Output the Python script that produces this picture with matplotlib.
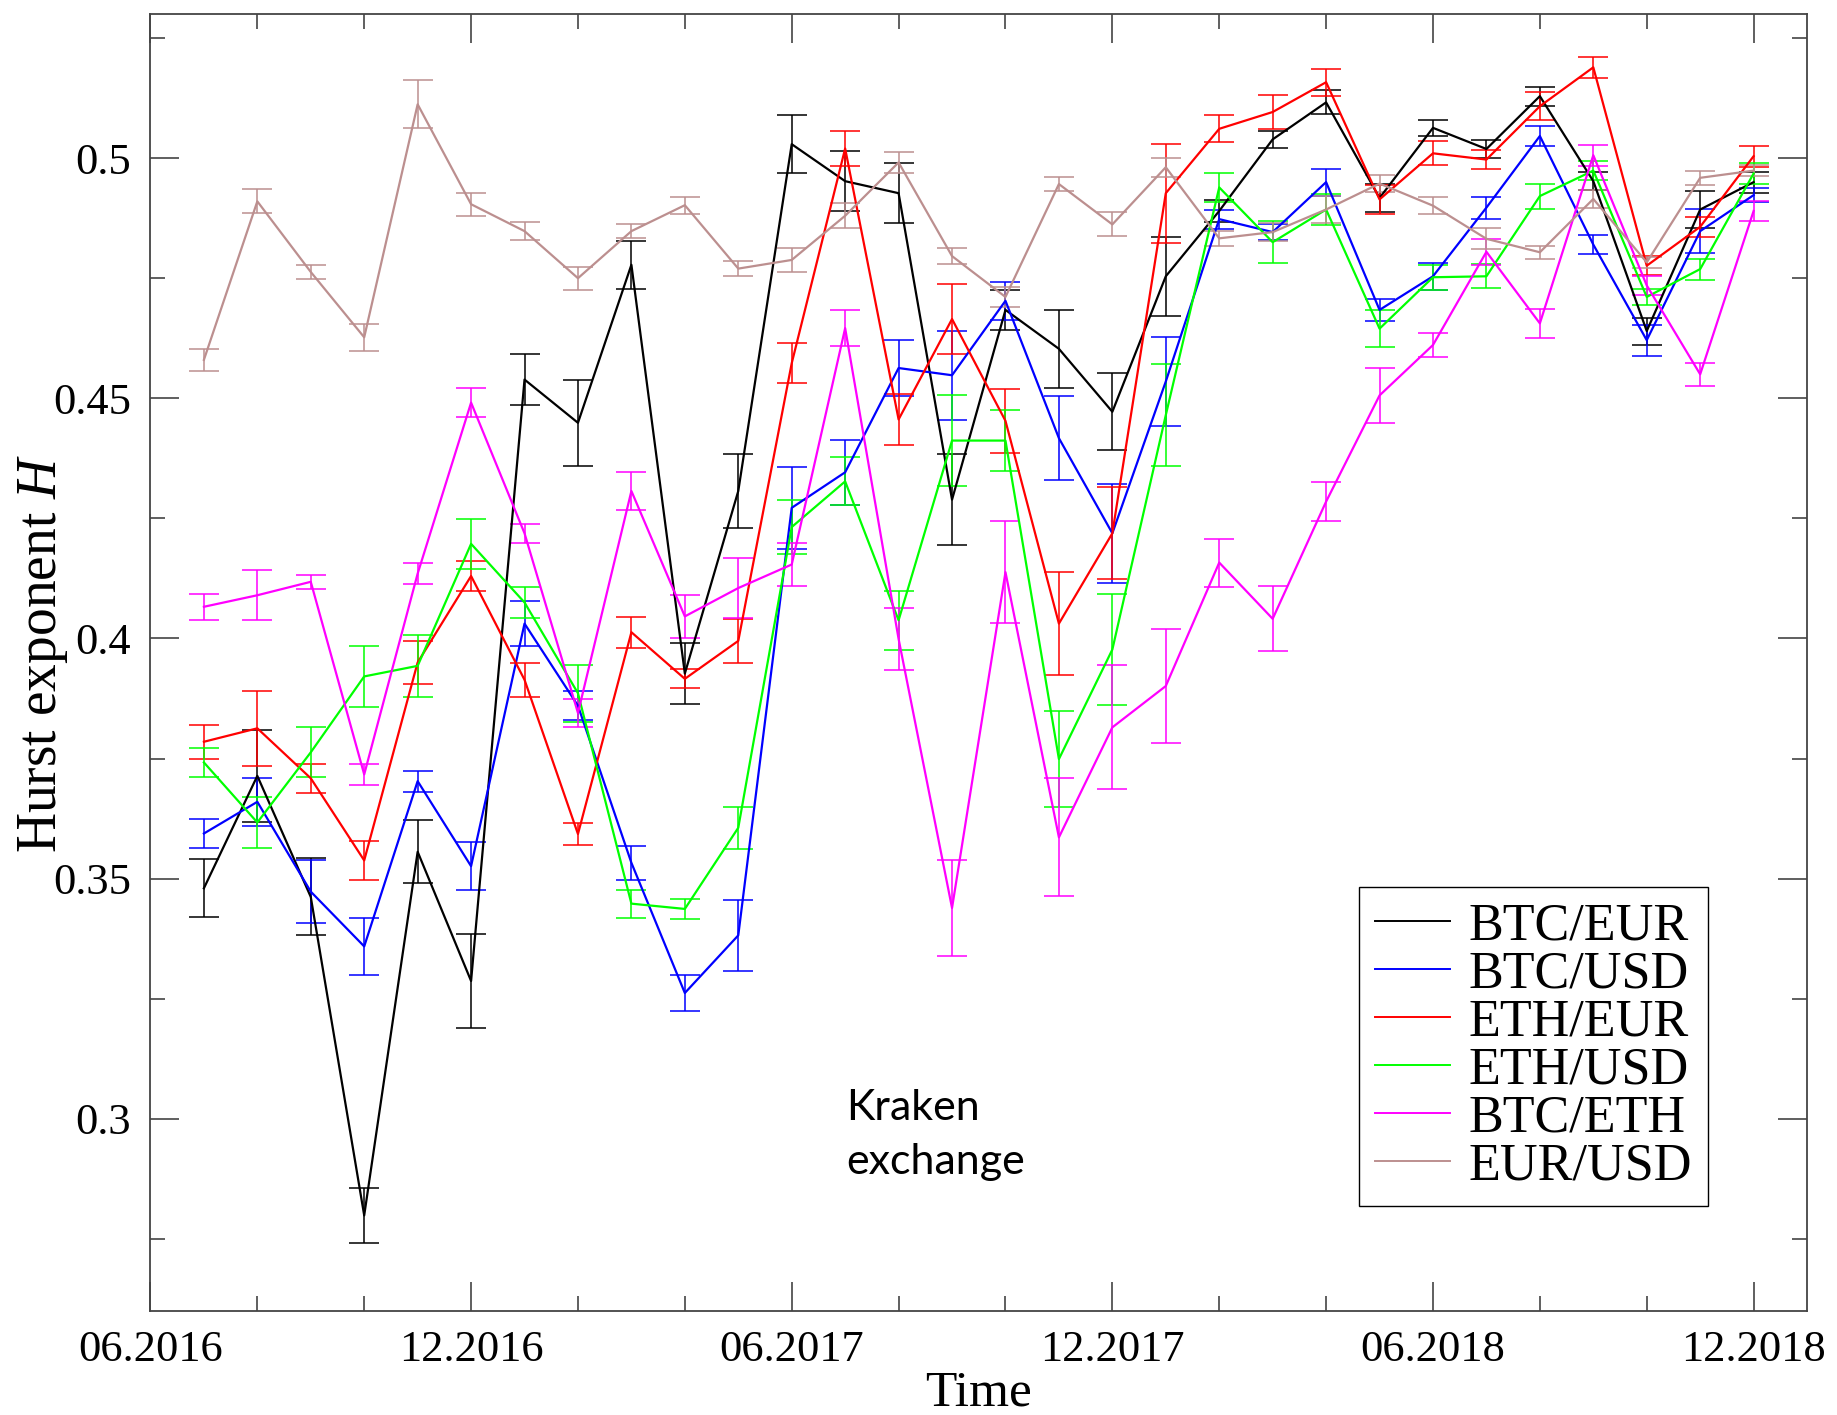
import numpy as np
import matplotlib.pyplot as plt
from matplotlib.ticker import MultipleLocator

plt.rcParams['font.family'] = 'Liberation Serif'
plt.rcParams['mathtext.fontset'] = 'custom'
plt.rcParams['mathtext.it'] = 'Liberation Serif:italic'
plt.rcParams['mathtext.rm'] = 'Liberation Serif'

# months counted from 06.2016 (one point per month, 07.2016 .. 12.2018)
months = np.arange(1, 31)
tick_pos = [0, 6, 12, 18, 24, 30]
tick_labels = ['06.2016', '12.2016', '06.2017', '12.2017', '06.2018', '12.2018']

pairs = ['BTC/EUR', 'BTC/USD', 'ETH/EUR', 'ETH/USD', 'BTC/ETH', 'EUR/USD']
colors = ['black', '#0000ff', '#ff0000', '#00ff00', '#ff00ff', '#bc8f8f']

btc_eur = [0.348, 0.3714, 0.3462, 0.2799, 0.3556, 0.3287, 0.4539, 0.4449, 0.4778, 0.3927,
           0.4307, 0.5029, 0.4952, 0.4927, 0.4289, 0.4684, 0.4603, 0.4472, 0.4754, 0.489,
           0.5039, 0.5116, 0.4917, 0.5063, 0.5019, 0.5129, 0.4952, 0.464, 0.4893, 0.495]
btc_eur_err = [0.006, 0.0095, 0.008, 0.0057, 0.0066, 0.0098, 0.0053, 0.009, 0.005, 0.0064,
               0.0078, 0.0061, 0.0062, 0.0062, 0.0095, 0.0042, 0.0081, 0.008, 0.0082, 0.0023,
               0.0018, 0.0025, 0.003, 0.0016, 0.0019, 0.002, 0.0019, 0.0028, 0.0039, 0.0022]

btc_usd = [0.3594, 0.366, 0.3473, 0.3359, 0.3703, 0.3526, 0.4031, 0.386, 0.3533, 0.3262,
           0.3382, 0.4272, 0.4346, 0.4563, 0.4548, 0.4703, 0.4417, 0.4219, 0.4535, 0.4873,
           0.4846, 0.495, 0.4684, 0.4754, 0.4897, 0.5046, 0.482, 0.4621, 0.4848, 0.4923]
btc_usd_err = [0.003, 0.005, 0.0066, 0.006, 0.0022, 0.005, 0.0046, 0.003, 0.0036, 0.0038,
               0.0074, 0.0085, 0.0068, 0.0059, 0.0093, 0.004, 0.0087, 0.0103, 0.0093, 0.002,
               0.0016, 0.0028, 0.0023, 0.0028, 0.0023, 0.0021, 0.0019, 0.0032, 0.0046, 0.0015]

eth_eur = [0.3785, 0.3813, 0.3709, 0.3538, 0.395, 0.413, 0.3914, 0.3593, 0.4013, 0.3916,
           0.3995, 0.4573, 0.502, 0.4456, 0.4665, 0.4453, 0.4031, 0.4219, 0.4927, 0.5061,
           0.5096, 0.5158, 0.4914, 0.501, 0.4997, 0.5108, 0.5189, 0.4776, 0.4857, 0.5004]
eth_eur_err = [0.0035, 0.0078, 0.003, 0.004, 0.0045, 0.0032, 0.0035, 0.0023, 0.0032, 0.002,
               0.0046, 0.0042, 0.0037, 0.0053, 0.0073, 0.0067, 0.0107, 0.0096, 0.0103, 0.0028,
               0.0035, 0.0028, 0.003, 0.0025, 0.002, 0.0029, 0.0022, 0.002, 0.0021, 0.0022]

eth_usd = [0.3742, 0.3617, 0.3763, 0.3921, 0.3943, 0.4197, 0.4075, 0.3886, 0.3448, 0.3437,
           0.3606, 0.4232, 0.4327, 0.4038, 0.4412, 0.4412, 0.3749, 0.3977, 0.4465, 0.4939,
           0.4825, 0.4893, 0.4645, 0.4752, 0.4754, 0.4921, 0.4974, 0.4711, 0.4769, 0.4968]
eth_usd_err = [0.003, 0.0054, 0.0052, 0.0063, 0.0065, 0.0052, 0.0032, 0.0059, 0.0029, 0.002,
               0.0044, 0.0056, 0.005, 0.0061, 0.0095, 0.0064, 0.01, 0.0115, 0.0106, 0.003,
               0.0044, 0.0033, 0.0038, 0.0026, 0.0025, 0.0026, 0.0019, 0.0017, 0.0022, 0.0022]

btc_eth = [0.4066, 0.409, 0.4118, 0.3717, 0.4135, 0.4491, 0.4219, 0.3845, 0.4307, 0.4046,
           0.4105, 0.4154, 0.4646, 0.3999, 0.3439, 0.4138, 0.3586, 0.3815, 0.3901, 0.4158,
           0.4041, 0.4285, 0.4506, 0.4611, 0.4805, 0.4656, 0.5006, 0.4735, 0.455, 0.489]
btc_eth_err = [0.0027, 0.0052, 0.0015, 0.0022, 0.0022, 0.003, 0.002, 0.0029, 0.004, 0.0044,
               0.0063, 0.0045, 0.0037, 0.0064, 0.01, 0.0106, 0.0123, 0.0129, 0.0118, 0.005,
               0.0068, 0.0041, 0.0057, 0.0024, 0.0027, 0.003, 0.0022, 0.002, 0.0024, 0.0021]

eur_usd = [0.458, 0.491, 0.4763, 0.4627, 0.5112, 0.4904, 0.4848, 0.475, 0.4848, 0.4902,
           0.477, 0.4788, 0.488, 0.4991, 0.4796, 0.4711, 0.4946, 0.4862, 0.4981, 0.4833,
           0.4846, 0.4893, 0.4947, 0.4901, 0.4832, 0.4804, 0.4915, 0.4783, 0.4959, 0.4974]
eur_usd_err = [0.0023, 0.0025, 0.0014, 0.0028, 0.005, 0.0024, 0.0019, 0.0024, 0.0015, 0.0018,
               0.0016, 0.0025, 0.0026, 0.0022, 0.0016, 0.002, 0.0014, 0.0025, 0.002, 0.0016,
               0.0018, 0.0028, 0.0018, 0.0018, 0.0022, 0.0013, 0.0018, 0.0012, 0.0015, 0.0012]

values = [btc_eur, btc_usd, eth_eur, eth_usd, btc_eth, eur_usd]
errors = [btc_eur_err, btc_usd_err, eth_eur_err, eth_usd_err, btc_eth_err, eur_usd_err]

fig = plt.figure(figsize=(18.37, 14.15), dpi=100)
ax = fig.add_axes([0.0819, 0.0735, 0.9018, 0.9166])

handles = []
for name, col, h, e in zip(pairs, colors, values, errors):
    ax.errorbar(months, h, yerr=e, color=col, lw=1.6, elinewidth=1.1,
                capsize=10.5, capthick=1.1)
    line, = ax.plot([], [], color=col, lw=1.4, label=name)
    handles.append(line)

ax.set_xlim(0, 31)
ax.set_ylim(0.26, 0.53)

ax.set_xticks(tick_pos)
ax.set_xticklabels(tick_labels)
ax.xaxis.set_minor_locator(MultipleLocator(2))
ax.yaxis.set_major_locator(MultipleLocator(0.05))
ax.yaxis.set_minor_locator(MultipleLocator(0.025))
ax.set_yticklabels([f'{v:g}' for v in ax.get_yticks()])

edge = '#444444'
for s in ax.spines.values():
    s.set_color(edge)
    s.set_linewidth(1.3)
ax.tick_params(which='both', direction='in', top=True, right=True, color=edge, width=1.2)
ax.tick_params(which='major', length=21, labelsize=32, pad=14)
ax.tick_params(which='minor', length=10.5)

ax.set_xlabel('Time', fontsize=37, labelpad=0)
ax.set_ylabel('Hurst exponent $H$', fontsize=40)
ax.yaxis.set_label_coords(-0.0485, 0.507)

leg = ax.legend(handles=handles, loc='upper left', bbox_to_anchor=(0.7296, 0.327),
                borderaxespad=0, fontsize=37.5, handlelength=1.45, handletextpad=0.35,
                labelspacing=0.0, fancybox=False, framealpha=1, borderpad=0.3)
leg.get_frame().set_edgecolor('black')
leg.get_frame().set_linewidth(1.0)

ax.text(13.02, 0.3062, 'Kraken\nexchange', family='Lato', fontsize=31,
        ha='left', va='top', linespacing=1.5)

fig.savefig('out.png', dpi=100)
